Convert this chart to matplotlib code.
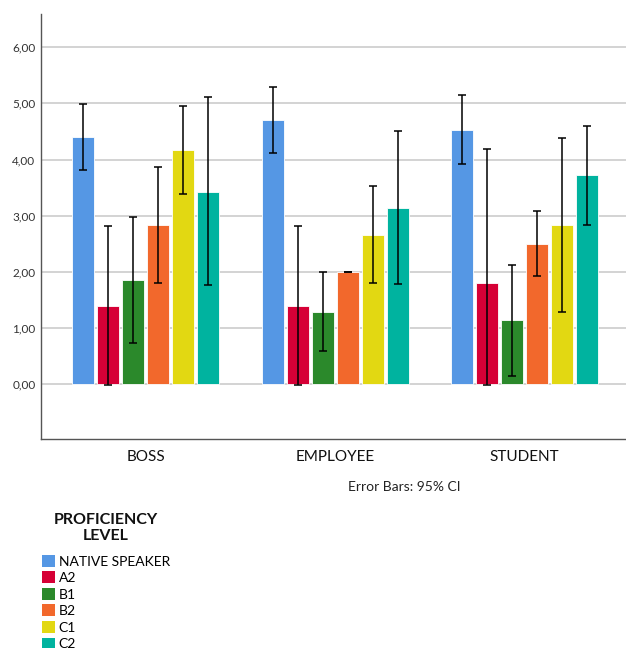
import numpy as np
import matplotlib
matplotlib.use("Agg")
import matplotlib.pyplot as plt
from matplotlib.patches import Patch
from matplotlib.ticker import FuncFormatter

plt.rcParams['font.family'] = ['Lato', 'DejaVu Sans']

# data
groups = ['BOSS', 'EMPLOYEE', 'STUDENT']
levels = ['NATIVE SPEAKER', 'A2', 'B1', 'B2', 'C1', 'C2']
colors = ['#5597E4', '#D60036', '#2B892B', '#F2682C', '#E2D812', '#00B39F']

means = {
    'NATIVE SPEAKER': [4.40, 4.70, 4.53],
    'A2': [1.40, 1.40, 1.80],
    'B1': [1.86, 1.28, 1.14],
    'B2': [2.83, 2.00, 2.50],
    'C1': [4.17, 2.66, 2.83],
    'C2': [3.43, 3.14, 3.72],
}
ci_low = {
    'NATIVE SPEAKER': [3.82, 4.11, 3.92],
    'A2': [-0.02, -0.02, -0.02],
    'B1': [0.74, 0.59, 0.15],
    'B2': [1.80, 2.00, 1.92],
    'C1': [3.38, 1.81, 1.29],
    'C2': [1.76, 1.79, 2.84],
}
ci_high = {
    'NATIVE SPEAKER': [4.98, 5.29, 5.14],
    'A2': [2.82, 2.82, 4.19],
    'B1': [2.98, 1.99, 2.13],
    'B2': [3.87, 2.00, 3.08],
    'C1': [4.96, 3.52, 4.38],
    'C2': [5.11, 4.50, 4.60],
}

fig = plt.figure(figsize=(6.26, 6.48), dpi=100)
ax = fig.add_axes([41 / 626, 209 / 648, 585 / 626, 425 / 648])

x = np.arange(len(groups))
step = 0.132
width = 0.116
for i, lvl in enumerate(levels):
    pos = x + (i - 2.5) * step
    m = np.array(means[lvl])
    lo = m - np.array(ci_low[lvl])
    hi = np.array(ci_high[lvl]) - m
    ax.bar(pos, m, width=width, color=colors[i], edgecolor='white',
           linewidth=0.6, zorder=2)
    ax.errorbar(pos, m, yerr=[lo, hi], fmt='none', ecolor='black',
                elinewidth=1.1, capsize=3, capthick=1.1, zorder=3)

ax.set_xlim(-0.553, 2.536)
ax.set_ylim(-0.974, 6.59)
ax.set_yticks(np.arange(0, 7, 1))
ax.yaxis.set_major_formatter(FuncFormatter(lambda v, p: f"{v:.2f}".replace('.', ',')))
ax.grid(axis='y', color='#cccccc', linewidth=1.2, zorder=0)
ax.set_axisbelow(True)
ax.set_xticks(x)
ax.set_xticklabels(groups, fontsize=11, color='#111111')
ax.tick_params(axis='y', length=0, labelsize=8.5, labelcolor='#333333', pad=4)
ax.tick_params(axis='x', length=0, pad=8)
for s in ['top', 'right']:
    ax.spines[s].set_visible(False)
for s in ['left', 'bottom']:
    ax.spines[s].set_color('#555555')
    ax.spines[s].set_linewidth(1)

fig.text(404 / 626, 1 - 487 / 648, 'Error Bars: 95% CI', ha='center', va='center',
         fontsize=10, color='#222222')

# legend title drawn separately so the gap to the entries matches
fig.text(106 / 626, 1 - 528 / 648, 'PROFICIENCY\nLEVEL', ha='center', va='center',
         fontsize=11.5, fontweight='bold', linespacing=1.15, color='#111111')

handles = [Patch(facecolor=c, edgecolor='none') for c in colors]
leg = fig.legend(handles, levels, loc='upper left', bbox_to_anchor=(35 / 626, 1 - 548 / 648),
                 frameon=False, fontsize=10, handlelength=0.95, handleheight=0.95,
                 handletextpad=0.25, labelspacing=0.27, borderpad=0)

fig.savefig('out.png', dpi=100)
